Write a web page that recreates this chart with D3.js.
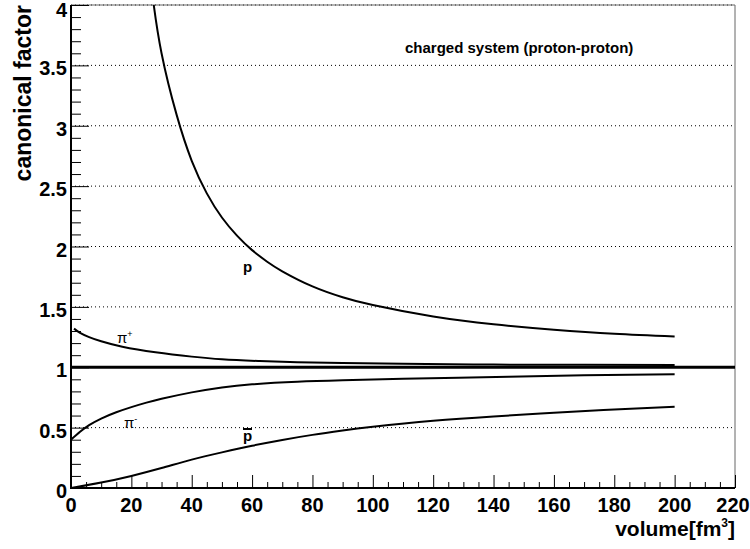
<!DOCTYPE html>
<html>
<head>
<meta charset="utf-8">
<script src="https://cdn.jsdelivr.net/npm/d3@7"></script>
<style>
    body { margin: 0; background: #fff; }
    svg { display: block; }
    text { font-family: "Liberation Sans", Arial, sans-serif; fill: #000; }
</style>
</head>
<body>
<div id="chart"></div>
<script>
// volume values (fm^3) and canonical factors
const protonV   = [25, 27, 30, 35, 40, 45, 50, 55, 60, 65, 70, 80, 90, 100, 120, 140, 160, 180, 200];
const protonF   = [4.50, 4.08, 3.60, 3.09, 2.71, 2.44, 2.24, 2.09, 1.97, 1.874, 1.795, 1.67, 1.58, 1.515, 1.42, 1.356, 1.311, 1.277, 1.255];

const piPlusV   = [1, 3, 6, 10, 17, 28, 40, 50, 62, 75, 90, 110, 140, 170, 200];
const piPlusF   = [1.32, 1.285, 1.25, 1.215, 1.17, 1.124, 1.088, 1.066, 1.052, 1.042, 1.035, 1.028, 1.022, 1.02, 1.018];

const piMinusV  = [0, 3, 6, 10, 15, 20, 25, 30, 40, 50, 60, 75, 90, 110, 145, 170, 200];
const piMinusF  = [0.40, 0.465, 0.52, 0.575, 0.627, 0.670, 0.707, 0.739, 0.792, 0.833, 0.859, 0.880, 0.892, 0.904, 0.922, 0.933, 0.941];

const antiProtonV = [0, 10, 20, 30, 40, 50, 60, 70, 80, 90, 100, 120, 140, 160, 180, 200];
const antiProtonF = [0, 0.045, 0.10, 0.165, 0.235, 0.295, 0.35, 0.398, 0.44, 0.476, 0.507, 0.557, 0.593, 0.623, 0.650, 0.673];

const unityLine = [0, 220];

const xTicks = [0, 20, 40, 60, 80, 100, 120, 140, 160, 180, 200, 220];
const yTicks = [0, 0.5, 1, 1.5, 2, 2.5, 3, 3.5, 4];

function createChart() {
    const width = 750;
    const height = 549;
    const left = 71, right = 735, top = 5, bottom = 488;

    const svg = d3.select('#chart')
        .append('svg')
        .attr('width', width)
        .attr('height', height);

    const x = d3.scaleLinear().domain([0, 220]).range([left, right]);
    const y = d3.scaleLinear().domain([0, 4]).range([bottom, top]);

    // clip for curves
    svg.append('clipPath').attr('id', 'frame')
        .append('rect')
        .attr('x', left).attr('y', top)
        .attr('width', right - left).attr('height', bottom - top);

    // horizontal dotted grid
    svg.append('g')
        .selectAll('line')
        .data(yTicks.filter(d => d > 0))
        .join('line')
        .attr('x1', left).attr('x2', right)
        .attr('y1', d => y(d)).attr('y2', d => y(d))
        .attr('stroke', '#000')
        .attr('stroke-width', 1)
        .attr('stroke-dasharray', '1,3');

    // frame top / right
    svg.append('path')
        .attr('d', `M${left},${top}H${right}V${bottom}`)
        .attr('fill', 'none')
        .attr('stroke', '#666')
        .attr('stroke-width', 1);

    // y axis
    const yAxis = d3.axisRight(y)
        .tickValues(d3.range(0, 4.001, 0.1))
        .tickSize(0)
        .tickFormat('');
    const gy = svg.append('g').attr('transform', `translate(${left},0)`).call(yAxis);
    gy.selectAll('.tick line')
        .attr('x2', d => Math.abs(d * 2 - Math.round(d * 2)) < 1e-6 ? 18 : 10)
        .attr('stroke', '#000');
    gy.select('.domain').remove();

    svg.append('g')
        .selectAll('text')
        .data(yTicks)
        .join('text')
        .attr('x', left - 4)
        .attr('y', d => Math.max(y(d) + 10, 17))
        .attr('text-anchor', 'end')
        .attr('font-size', 20)
        .attr('font-weight', 'bold')
        .text(d => d3.format('~g')(d));

    // x axis
    const xAxis = d3.axisTop(x)
        .tickValues(d3.range(0, 220.001, 5))
        .tickSize(0)
        .tickFormat('');
    const gx = svg.append('g').attr('transform', `translate(0,${bottom})`).call(xAxis);
    gx.selectAll('.tick line')
        .attr('y2', d => d % 20 === 0 ? -13 : -6)
        .attr('stroke', '#000');
    gx.select('.domain').remove();

    svg.append('g')
        .selectAll('text')
        .data(xTicks)
        .join('text')
        .attr('x', d => Math.min(x(d), 733))
        .attr('y', bottom + 24)
        .attr('text-anchor', 'middle')
        .attr('font-size', 20)
        .attr('font-weight', 'bold')
        .text(d => d);

    // axis lines
    svg.append('path')
        .attr('d', `M${left},${top}V${bottom}H${right}`)
        .attr('fill', 'none')
        .attr('stroke', '#000')
        .attr('stroke-width', 2);

    // curves
    const line = d3.line()
        .x(d => x(d[0]))
        .y(d => y(d[1]))
        .curve(d3.curveNatural);

    const series = [
        d3.zip(protonV, protonF),
        d3.zip(piPlusV, piPlusF),
        d3.zip(piMinusV, piMinusF),
        d3.zip(antiProtonV, antiProtonF),
    ];

    const curves = svg.append('g').attr('clip-path', 'url(#frame)');
    curves.selectAll('path')
        .data(series)
        .join('path')
        .attr('d', line)
        .attr('fill', 'none')
        .attr('stroke', '#000')
        .attr('stroke-width', 2);

    curves.append('path')
        .datum(unityLine.map(v => [v, 1]))
        .attr('d', d3.line().x(d => x(d[0])).y(d => y(d[1])))
        .attr('stroke', '#000')
        .attr('stroke-width', 3);

    // axis titles
    svg.append('text')
        .attr('transform', `translate(31,${top}) rotate(-90)`)
        .attr('text-anchor', 'end')
        .attr('font-size', 23)
        .attr('font-weight', 'bold')
        .text('canonical factor');

    const xt = svg.append('text')
        .attr('x', right)
        .attr('y', 536)
        .attr('text-anchor', 'end')
        .attr('font-size', 21)
        .attr('font-weight', 'bold');
    xt.append('tspan').text('volume[fm');
    xt.append('tspan').attr('font-size', 12).attr('dy', -9).text('3');
    xt.append('tspan').attr('dy', 9).text(']');

    svg.append('text')
        .attr('x', 405)
        .attr('y', 53)
        .attr('font-size', 15)
        .attr('font-weight', 'bold')
        .text('charged system (proton-proton)');

    // curve labels
    svg.append('text')
        .attr('x', 243).attr('y', 272)
        .attr('font-size', 15).attr('font-weight', 'bold')
        .text('p');

    const pip = svg.append('text')
        .attr('x', 117).attr('y', 343)
        .attr('font-size', 15);
    pip.append('tspan').text('π');
    pip.append('tspan').attr('font-size', 9).attr('dy', -6).text('+');

    const pim = svg.append('text')
        .attr('x', 124).attr('y', 428)
        .attr('font-size', 15);
    pim.append('tspan').text('π');
    pim.append('tspan').attr('font-size', 9).attr('dy', -6).text('-');

    svg.append('text')
        .attr('x', 243).attr('y', 441)
        .attr('font-size', 15).attr('font-weight', 'bold')
        .text('p');
    svg.append('line')
        .attr('x1', 243).attr('x2', 252)
        .attr('y1', 429).attr('y2', 429)
        .attr('stroke', '#000')
        .attr('stroke-width', 2);
}

document.addEventListener('DOMContentLoaded', () => {
    createChart();
});
</script>
</body>
</html>
